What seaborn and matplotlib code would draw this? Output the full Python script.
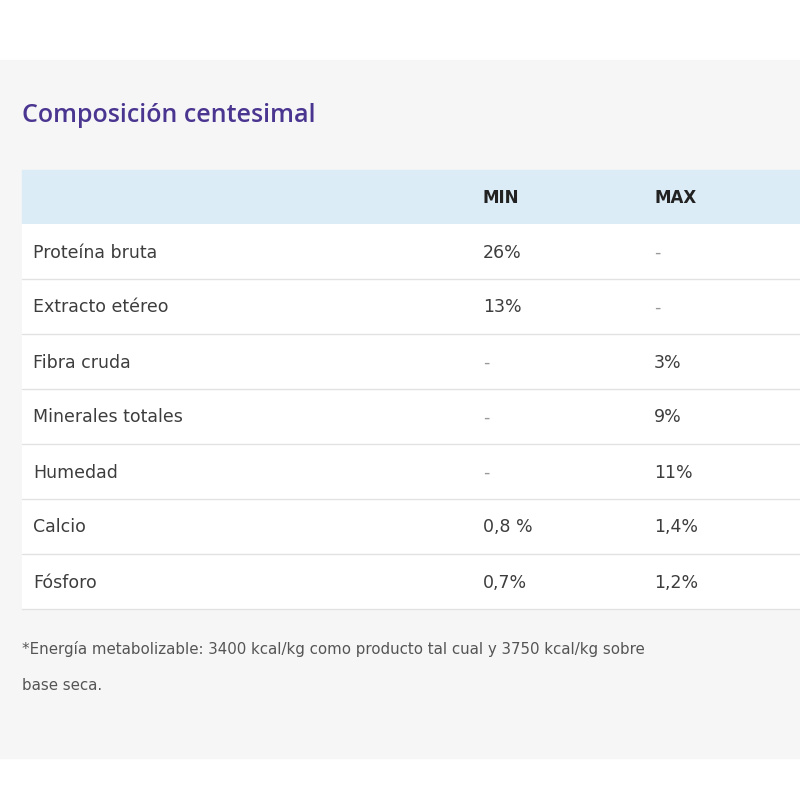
import matplotlib.pyplot as plt
import seaborn as sns
from matplotlib.patches import Rectangle

title = "Composición centesimal"
headers = ["", "MIN", "MAX"]
nutrients = ["Proteína bruta", "Extracto etéreo", "Fibra cruda", "Minerales totales",
             "Humedad", "Calcio", "Fósforo"]
min_vals = ["26%", "13%", "-", "-", "-", "0,8 %", "0,7%"]
max_vals = ["-", "-", "3%", "9%", "11%", "1,4%", "1,2%"]
footnote = ["*Energía metabolizable: 3400 kcal/kg como producto tal cual y 3750 kcal/kg sobre",
            "base seca."]

sns.set_theme(style="white", font="DejaVu Sans")
fig = plt.figure(figsize=(8, 8), dpi=100)
ax = fig.add_axes([0, 0, 1, 1])
ax.set_xlim(0, 800)
ax.set_ylim(800, 0)
ax.axis("off")

text_col = "#3d3d3d"
ax.add_patch(Rectangle((0, 60), 800, 698, color="#f6f6f6", zorder=0))
ax.text(22, 115, title, color="#4a3590", fontsize=18, fontweight="semibold",
        family="Open Sans", va="center")

top, header_h, row_h = 170, 54, 55
col_x = [33, 483, 654]
ax.add_patch(Rectangle((22, top), 778, header_h, color="#dcecf6", zorder=1))
for x, h in zip(col_x, headers):
    ax.text(x, top + header_h / 2 + 1, h, fontsize=12, fontweight="bold",
            color="#222222", va="center", zorder=3)

for i, (name, mn, mx) in enumerate(zip(nutrients, min_vals, max_vals)):
    y0 = top + header_h + i * row_h
    ax.add_patch(Rectangle((22, y0), 778, row_h, facecolor="white",
                           edgecolor="none", zorder=1))
    ax.plot([22, 800], [y0 + row_h, y0 + row_h], color="#e2e2e2", lw=1, zorder=2)
    for x, t in zip(col_x, [name, mn, mx]):
        c = "#999999" if t == "-" else text_col
        ax.text(x, y0 + row_h / 2 + 1, t, fontsize=12.5, color=c, va="center", zorder=3)

for j, line in enumerate(footnote):
    ax.text(22, 649 + j * 36, line, fontsize=10.8, color="#555555", va="center")

fig.savefig("out.png", dpi=100, facecolor="white")
